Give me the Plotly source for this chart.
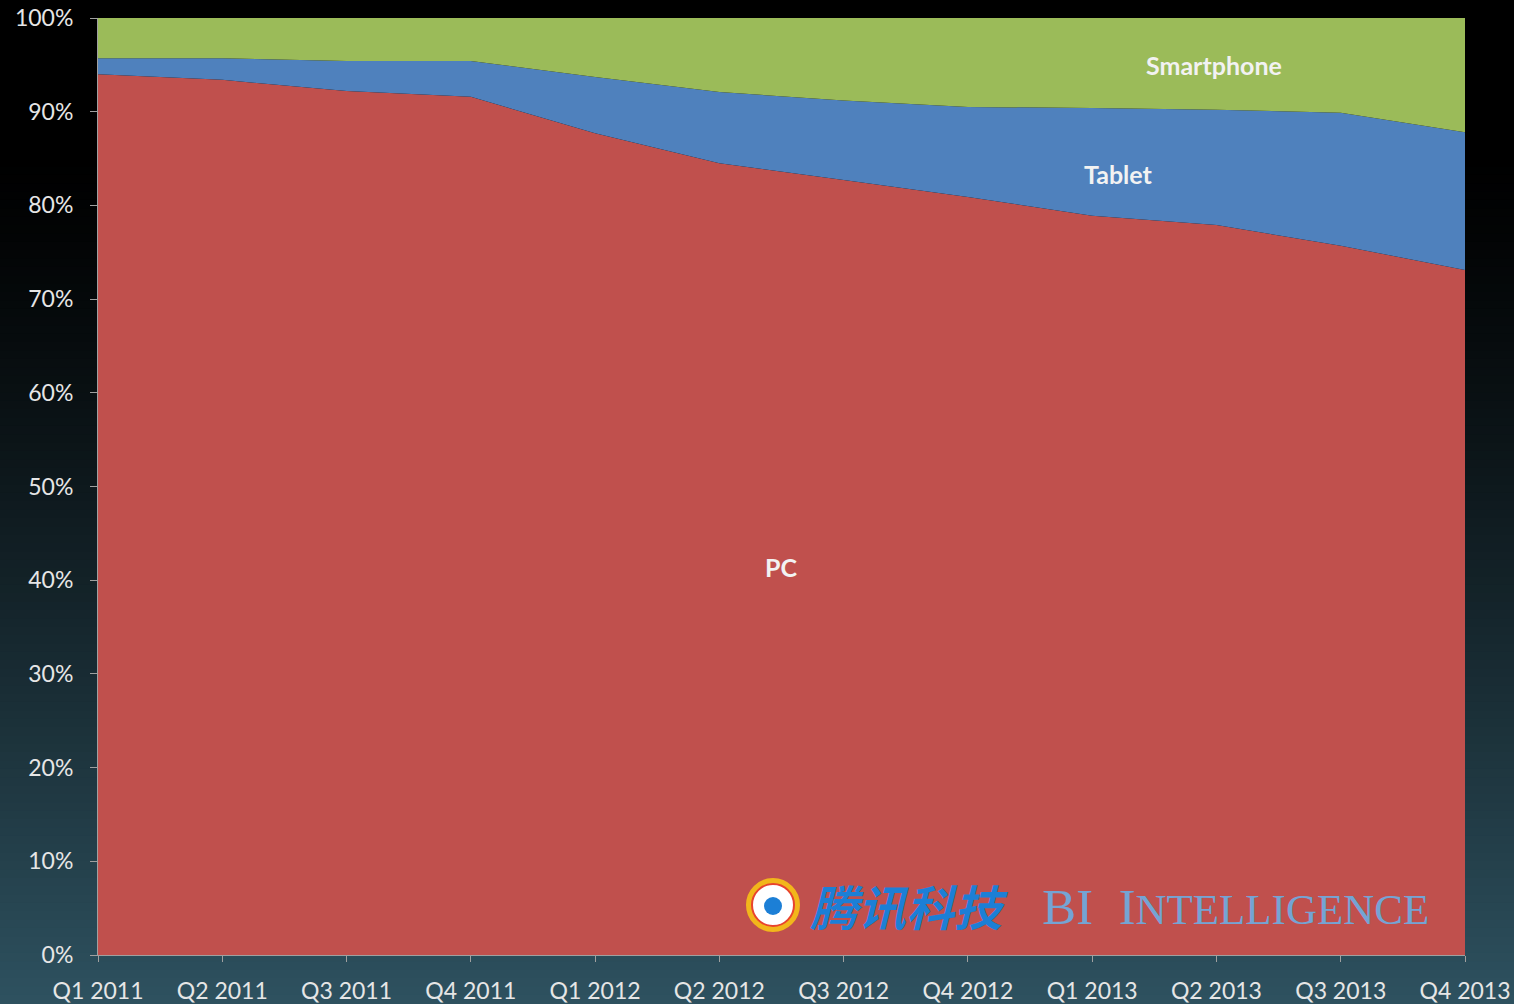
import plotly.graph_objects as go

quarters = ["Q1 2011", "Q2 2011", "Q3 2011", "Q4 2011", "Q1 2012", "Q2 2012",
            "Q3 2012", "Q4 2012", "Q1 2013", "Q2 2013", "Q3 2013", "Q4 2013"]
pc = [94.0, 93.4, 92.2, 91.6, 87.7, 84.5, 82.7, 80.9, 78.9, 77.9, 75.7, 73.1]
tablet = [1.7, 2.3, 3.2, 3.8, 6.0, 7.6, 8.5, 9.6, 11.5, 12.3, 14.2, 14.7]
smartphone = [4.3, 4.3, 4.6, 4.6, 6.3, 7.9, 8.8, 9.5, 9.6, 9.8, 10.1, 12.2]
y_ticks = [0, 10, 20, 30, 40, 50, 60, 70, 80, 90, 100]
y_tick_text = ["0%", "10%", "20%", "30%", "40%", "50%", "60%", "70%", "80%", "90%", "100%"]

W, H = 1514, 1004
ML, MR, MT, MB = 98, 49, 18, 49

fig = go.Figure()
series = [("PC", pc, "#c0504d"), ("Tablet", tablet, "#4f81bd"), ("Smartphone", smartphone, "#9bbb59")]
for name, vals, col in series:
    fig.add_trace(go.Scatter(x=quarters, y=vals, name=name, mode="lines",
                             stackgroup="one", line=dict(width=0, color=col),
                             fillcolor=col, hoverinfo="x+y+name"))

# background gradient (black top -> dark teal bottom)
shapes = []
ph = H - MT - MB
pw = W - ML - MR
nb = 120
bottom = (46, 82, 96)
for i in range(nb):
    p0 = i * H / nb
    p1 = (i + 1) * H / nb
    t = (p0 + p1) / 2 / H
    f = max(0.0, (t - 0.15) / 0.85) ** 1.3
    c = tuple(int(round(b * f)) for b in bottom)
    y0 = (H - MB - p1) / ph
    y1 = (H - MB - p0) / ph
    shapes.append(dict(type="rect", xref="paper", yref="paper",
                       x0=-ML / pw - 0.01, x1=1 + MR / pw + 0.01,
                       y0=y0, y1=y1 + 0.001, fillcolor="rgb(%d,%d,%d)" % c,
                       line=dict(width=0), layer="below"))

px2x = lambda px: (px - ML) / pw
py2y = lambda py: (H - MB - py) / ph

# logo ring in watermark
cx, cy, r = 773, 905, 24
shapes.append(dict(type="circle", xref="paper", yref="paper",
                   x0=px2x(cx - r), x1=px2x(cx + r), y0=py2y(cy + r), y1=py2y(cy - r),
                   fillcolor="white", line=dict(width=6, color="#f2b61b")))
shapes.append(dict(type="circle", xref="paper", yref="paper",
                   x0=px2x(cx - r + 3), x1=px2x(cx + r - 3), y0=py2y(cy + r - 3), y1=py2y(cy - r + 3),
                   fillcolor="rgba(0,0,0,0)", line=dict(width=2, color="#e8432e")))
shapes.append(dict(type="circle", xref="paper", yref="paper",
                   x0=px2x(cx - 9), x1=px2x(cx + 9), y0=py2y(cy + 10), y1=py2y(cy - 8),
                   fillcolor="#1c7fd6", line=dict(width=0)))

lab_font = dict(family="Lato, Open Sans", size=25, color="#f2f2f2")
annotations = [
    dict(text="<b>Smartphone</b>", x=px2x(1214), y=py2y(65), font=lab_font),
    dict(text="<b>Tablet</b>", x=px2x(1118), y=py2y(174), font=lab_font),
    dict(text="<b>PC</b>", x=px2x(781), y=py2y(567), font=lab_font),
    dict(text="<b><i>腾讯科技</i></b>", x=px2x(808), y=py2y(905), xanchor="left",
         font=dict(family="Noto Sans CJK SC", size=48, color="#1c7fd6")),
    dict(text="BI  I<span style='font-size:43px'>NTELLIGENCE</span>", x=px2x(1040), y=py2y(907),
         xanchor="left", font=dict(family="Liberation Serif", size=51, color="#74a4d4")),
]
for a in annotations:
    a.update(xref="paper", yref="paper", showarrow=False)
    a.setdefault("xanchor", "center")
    a.setdefault("yanchor", "middle")

fig.update_layout(
    width=W, height=H,
    margin=dict(l=ML, r=MR, t=MT, b=MB, pad=0),
    paper_bgcolor="#000000", plot_bgcolor="rgba(0,0,0,0)",
    showlegend=False, shapes=shapes, annotations=annotations,
    font=dict(family="Lato, Open Sans", color="#e6e6e6", size=23),
)
fig.update_xaxes(type="category", range=[0, 11], showgrid=False, zeroline=False,
                 showline=True, linecolor="#a0a0a0", linewidth=1,
                 ticks="outside", ticklen=6, tickcolor="#a0a0a0", automargin=False,
                 ticklabelstandoff=9,
                 tickfont=dict(size=23, color="#e6e6e6"))
fig.update_yaxes(range=[0, 100], tickvals=y_ticks, ticktext=y_tick_text, showgrid=False,
                 zeroline=False, showline=True, linecolor="#a0a0a0", linewidth=1,
                 ticks="outside", ticklen=7, tickcolor="#a0a0a0", automargin=False,
                 ticklabelstandoff=12,
                 tickfont=dict(size=23, color="#e6e6e6"))

fig.write_html("out.html", config={"displayModeBar": False},
               post_script="document.body.style.margin='0';document.body.style.overflow='hidden';")
